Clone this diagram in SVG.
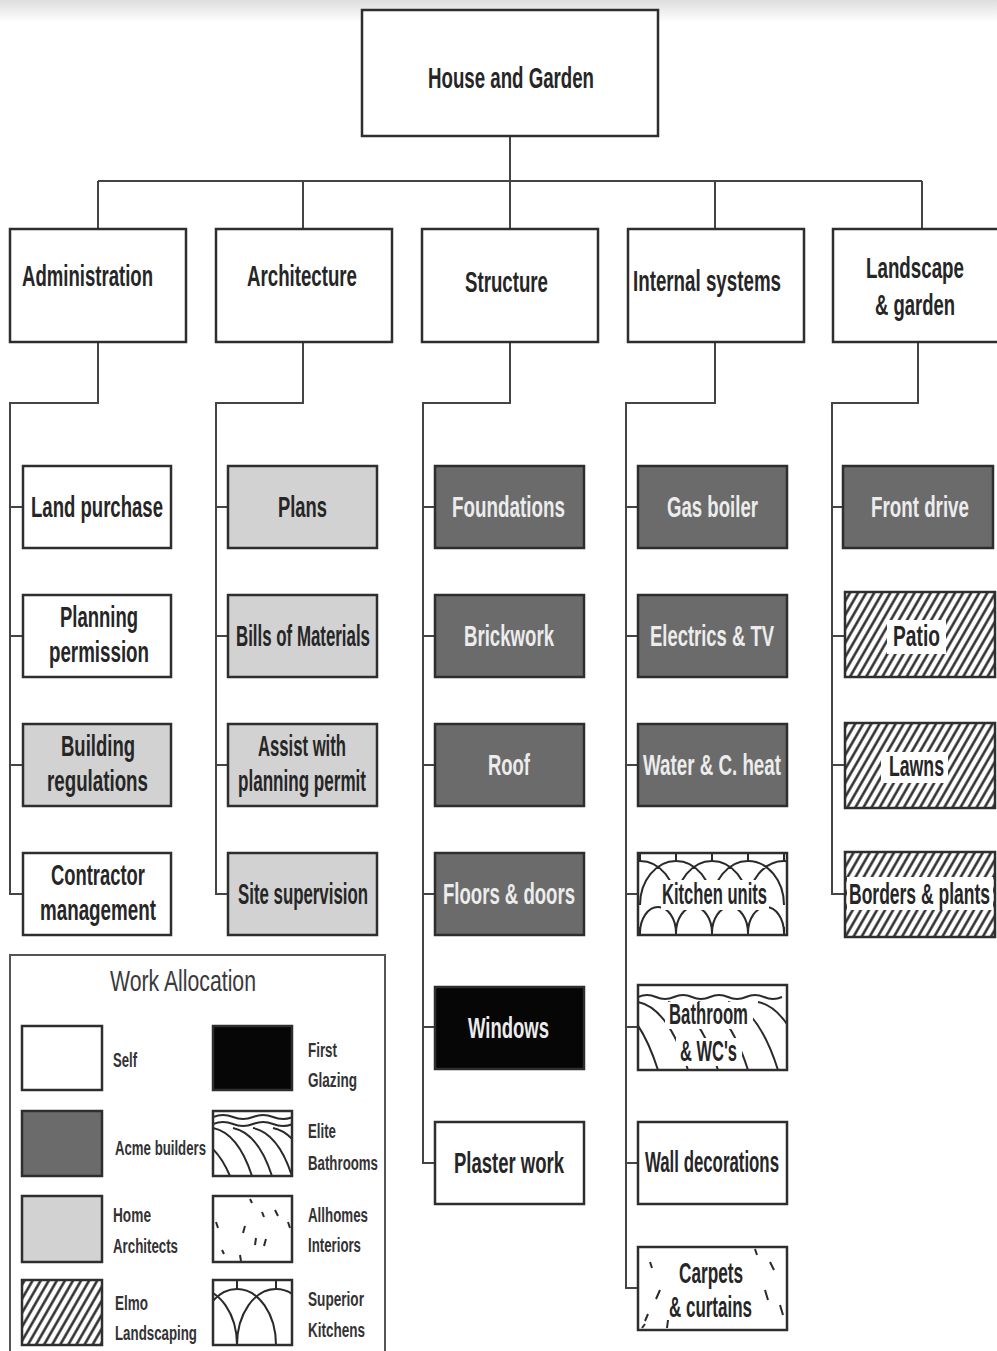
<svg xmlns="http://www.w3.org/2000/svg" width="997" height="1351" viewBox="0 0 997 1351">
  <style>
    .box { stroke: #2e2e2e; stroke-width: 2.5; }
    .white { fill: #ffffff; }
    .acme { fill: #6b6b6b; }
    .home { fill: #d2d2d2; }
    .glaze { fill: #060606; }
    .hatch { fill: url(#hatch); }
    .conn { fill: none; stroke: #444444; stroke-width: 2; }
    .pat { fill: none; stroke: #2a2a2a; stroke-width: 2; }
    .t { font-family: "Liberation Sans", Arial, sans-serif; font-weight: bold; font-size: 30px; fill: #262626; }
    .tl { fill: #ececec; }
    .lg { font-size: 21px; fill: #333333; }
    .title { font-family: "Liberation Sans", Arial, sans-serif; font-size: 30px; fill: #3a3a3a; }
  </style>
  <defs>
    <linearGradient id="haze" x1="0" y1="0" x2="0" y2="1">
      <stop offset="0" stop-color="#dedede"/>
      <stop offset="1" stop-color="#ffffff"/>
    </linearGradient>
    <!-- Landscaping: diagonal hatching -->
    <pattern id="hatch" patternUnits="userSpaceOnUse" width="7" height="10" patternTransform="rotate(30)">
      <rect width="7" height="10" fill="#ffffff"/>
      <line x1="3.5" y1="0" x2="3.5" y2="10" stroke="#222222" stroke-width="2.4"/>
    </pattern>
    <clipPath id="clipKitchen"><rect x="638" y="853" width="149" height="82"/></clipPath>
    <clipPath id="clipBath"><rect x="638" y="985" width="149" height="85"/></clipPath>
    <clipPath id="clipLgKitchen"><rect x="213" y="1280" width="79" height="65"/></clipPath>
    <clipPath id="clipLgBath"><rect x="213" y="1111" width="79" height="65"/></clipPath>
  </defs>

  <rect width="997" height="1351" fill="#ffffff"/>
  <rect width="997" height="22" fill="url(#haze)"/>

  <!-- connectors -->
  <g id="connectors" class="conn">
    <path d="M510,136 V181 M98,181 H922 M98,181 V229 M303,181 V229 M510,181 V229 M715,181 V229 M922,181 V229"/>
    <!-- Administration branch -->
    <path d="M98,342 V403 H10 V894 H23 M10,507 H23 M10,636 H23 M10,765 H23"/>
    <!-- Architecture branch -->
    <path d="M303,342 V403 H216 V894 H228 M216,507 H228 M216,636 H228 M216,765 H228"/>
    <!-- Structure branch -->
    <path d="M510,342 V403 H423 V1163 H435 M423,507 H435 M423,636 H435 M423,765 H435 M423,894 H435 M423,1027 H435"/>
    <!-- Internal systems branch -->
    <path d="M715,342 V403 H626 V1288 H638 M626,507 H638 M626,636 H638 M626,765 H638 M626,894 H638 M626,1027 H638 M626,1163 H638"/>
    <!-- Landscape branch -->
    <path d="M918,342 V403 H832 V894 H845 M832,507 H843 M832,636 H845 M832,765 H845"/>
  </g>

  <!-- root (labels sit in a 0.625 horizontal scale: x values are divided by 0.625) -->
  <g id="house-and-garden">
    <rect class="box white" x="362" y="10" width="296" height="126"/>
    <g transform="scale(0.625,1)"><text class="t" x="684.8" y="88" textLength="265.6" lengthAdjust="spacingAndGlyphs">House and Garden</text></g>
  </g>

  <!-- level 2 -->
  <g id="administration">
    <rect class="box white" x="10" y="229" width="176" height="113"/>
    <g transform="scale(0.625,1)"><text class="t" x="35.2" y="286" textLength="209.6" lengthAdjust="spacingAndGlyphs">Administration</text></g>
  </g>
  <g id="architecture">
    <rect class="box white" x="216" y="229" width="176" height="113"/>
    <g transform="scale(0.625,1)"><text class="t" x="395.2" y="286" textLength="176" lengthAdjust="spacingAndGlyphs">Architecture</text></g>
  </g>
  <g id="structure">
    <rect class="box white" x="422" y="229" width="176" height="113"/>
    <g transform="scale(0.625,1)"><text class="t" x="744" y="292" textLength="132.8" lengthAdjust="spacingAndGlyphs">Structure</text></g>
  </g>
  <g id="internal-systems">
    <rect class="box white" x="628" y="229" width="176" height="113"/>
    <g transform="scale(0.625,1)"><text class="t" x="1012.8" y="291" textLength="236.8" lengthAdjust="spacingAndGlyphs">Internal systems</text></g>
  </g>
  <g id="landscape-garden">
    <rect class="box white" x="833" y="229" width="180" height="113"/>
    <g transform="scale(0.625,1)">
      <text class="t" x="1385.6" y="278" textLength="156.8" lengthAdjust="spacingAndGlyphs">Landscape</text>
      <text class="t" x="1400" y="315" textLength="128" lengthAdjust="spacingAndGlyphs">&amp; garden</text>
    </g>
  </g>

  <!-- Administration tasks -->
  <g id="land-purchase">
    <rect class="box white" x="23" y="466" width="148" height="82"/>
    <g transform="scale(0.625,1)"><text class="t" x="49.6" y="517" textLength="211.2" lengthAdjust="spacingAndGlyphs">Land purchase</text></g>
  </g>
  <g id="planning-permission">
    <rect class="box white" x="23" y="595" width="148" height="82"/>
    <g transform="scale(0.625,1)">
      <text class="t" x="96" y="627" textLength="124.8" lengthAdjust="spacingAndGlyphs">Planning</text>
      <text class="t" x="78.4" y="662" textLength="160" lengthAdjust="spacingAndGlyphs">permission</text>
    </g>
  </g>
  <g id="building-regulations">
    <rect class="box home" x="23" y="724" width="148" height="82"/>
    <g transform="scale(0.625,1)">
      <text class="t" x="97.6" y="756" textLength="118.4" lengthAdjust="spacingAndGlyphs">Building</text>
      <text class="t" x="75.2" y="791" textLength="161.6" lengthAdjust="spacingAndGlyphs">regulations</text>
    </g>
  </g>
  <g id="contractor-management">
    <rect class="box white" x="23" y="853" width="148" height="82"/>
    <g transform="scale(0.625,1)">
      <text class="t" x="81.6" y="885" textLength="150.4" lengthAdjust="spacingAndGlyphs">Contractor</text>
      <text class="t" x="64" y="920" textLength="185.6" lengthAdjust="spacingAndGlyphs">management</text>
    </g>
  </g>

  <!-- Architecture tasks -->
  <g id="plans">
    <rect class="box home" x="228" y="466" width="149" height="82"/>
    <g transform="scale(0.625,1)"><text class="t" x="444.8" y="517" textLength="78.4" lengthAdjust="spacingAndGlyphs">Plans</text></g>
  </g>
  <g id="bills-of-materials">
    <rect class="box home" x="228" y="595" width="149" height="82"/>
    <g transform="scale(0.625,1)"><text class="t" x="377.6" y="646" textLength="214.4" lengthAdjust="spacingAndGlyphs">Bills of Materials</text></g>
  </g>
  <g id="assist-planning">
    <rect class="box home" x="228" y="724" width="149" height="82"/>
    <g transform="scale(0.625,1)">
      <text class="t" x="412.8" y="756" textLength="140.8" lengthAdjust="spacingAndGlyphs">Assist with</text>
      <text class="t" x="380.8" y="791" textLength="204.8" lengthAdjust="spacingAndGlyphs">planning permit</text>
    </g>
  </g>
  <g id="site-supervision">
    <rect class="box home" x="228" y="853" width="149" height="82"/>
    <g transform="scale(0.625,1)"><text class="t" x="380.8" y="904" textLength="208" lengthAdjust="spacingAndGlyphs">Site supervision</text></g>
  </g>

  <!-- Structure tasks -->
  <g id="foundations">
    <rect class="box acme" x="435" y="466" width="149" height="82"/>
    <g transform="scale(0.625,1)"><text class="t tl" x="723.2" y="517" textLength="180.8" lengthAdjust="spacingAndGlyphs">Foundations</text></g>
  </g>
  <g id="brickwork">
    <rect class="box acme" x="435" y="595" width="149" height="82"/>
    <g transform="scale(0.625,1)"><text class="t tl" x="742.4" y="646" textLength="144" lengthAdjust="spacingAndGlyphs">Brickwork</text></g>
  </g>
  <g id="roof">
    <rect class="box acme" x="435" y="724" width="149" height="82"/>
    <g transform="scale(0.625,1)"><text class="t tl" x="780.8" y="775" textLength="67.2" lengthAdjust="spacingAndGlyphs">Roof</text></g>
  </g>
  <g id="floors-doors">
    <rect class="box acme" x="435" y="853" width="149" height="82"/>
    <g transform="scale(0.625,1)"><text class="t tl" x="708.8" y="904" textLength="211.2" lengthAdjust="spacingAndGlyphs">Floors &amp; doors</text></g>
  </g>
  <g id="windows">
    <rect class="box glaze" x="435" y="987" width="149" height="82"/>
    <g transform="scale(0.625,1)"><text class="t tl" x="748.8" y="1038" textLength="129.6" lengthAdjust="spacingAndGlyphs">Windows</text></g>
  </g>
  <g id="plaster-work">
    <rect class="box white" x="435" y="1122" width="149" height="82"/>
    <g transform="scale(0.625,1)"><text class="t" x="726.4" y="1173" textLength="176" lengthAdjust="spacingAndGlyphs">Plaster work</text></g>
  </g>

  <!-- Internal systems tasks -->
  <g id="gas-boiler">
    <rect class="box acme" x="638" y="466" width="149" height="82"/>
    <g transform="scale(0.625,1)"><text class="t tl" x="1067.2" y="517" textLength="145.6" lengthAdjust="spacingAndGlyphs">Gas boiler</text></g>
  </g>
  <g id="electrics-tv">
    <rect class="box acme" x="638" y="595" width="149" height="82"/>
    <g transform="scale(0.625,1)"><text class="t tl" x="1040" y="646" textLength="198.4" lengthAdjust="spacingAndGlyphs">Electrics &amp; TV</text></g>
  </g>
  <g id="water-heat">
    <rect class="box acme" x="638" y="724" width="149" height="82"/>
    <g transform="scale(0.625,1)"><text class="t tl" x="1028.8" y="775" textLength="220.8" lengthAdjust="spacingAndGlyphs">Water &amp; C. heat</text></g>
  </g>
  <g id="kitchen-units">
    <rect class="white" x="638" y="853" width="149" height="82"/>
    <g clip-path="url(#clipKitchen)" class="pat">
      <path d="M640,853 V861 M676,853 V861 M712,853 V861 M748,853 V861 M784,853 V861"/>
      <path d="M604,905 A36,44 0 0 1 676,905 M640,905 A36,44 0 0 1 712,905 M676,905 A36,44 0 0 1 748,905 M712,905 A36,44 0 0 1 784,905 M748,905 A36,44 0 0 1 820,905"/>
      <path d="M640,933 A18,26 0 0 1 676,933 M676,933 A18,26 0 0 1 712,933 M712,933 A18,26 0 0 1 748,933 M748,933 A18,26 0 0 1 784,933"/>
      <path d="M640,935 V927 M676,935 V927 M712,935 V927 M748,935 V927 M784,935 V927"/>
    </g>
    <rect x="661" y="880" width="108" height="30" fill="#ffffff"/>
    <rect class="box" x="638" y="853" width="149" height="82" fill="none"/>
    <g transform="scale(0.625,1)"><text class="t" x="1059.2" y="904" textLength="168" lengthAdjust="spacingAndGlyphs">Kitchen units</text></g>
  </g>
  <g id="bathroom-wcs">
    <rect class="white" x="638" y="985" width="149" height="85"/>
    <g clip-path="url(#clipBath)" class="pat">
      <path d="M638,997 q9,-4 18,0 t18,0 t18,0 t18,0 t18,0 t18,0 t18,0 t18,0"/>
      <path d="M578,1002 Q608,1008 628,1070 M608,1002 Q638,1008 658,1070 M638,1002 Q668,1008 688,1070 M668,1002 Q698,1008 718,1070 M698,1002 Q728,1008 748,1070 M728,1002 Q758,1008 778,1070 M758,1002 Q788,1008 808,1070"/>
    </g>
    <rect x="665" y="1002" width="88" height="27" fill="#ffffff"/>
    <rect x="676" y="1038" width="66" height="28" fill="#ffffff"/>
    <rect class="box" x="638" y="985" width="149" height="85" fill="none"/>
    <g transform="scale(0.625,1)">
      <text class="t" x="1070.4" y="1024" textLength="126.4" lengthAdjust="spacingAndGlyphs">Bathroom</text>
      <text class="t" x="1088" y="1061" textLength="91.2" lengthAdjust="spacingAndGlyphs">&amp; WC's</text>
    </g>
  </g>
  <g id="wall-decorations">
    <rect class="box white" x="638" y="1122" width="149" height="82"/>
    <g transform="scale(0.625,1)"><text class="t" x="1032" y="1172" textLength="214.4" lengthAdjust="spacingAndGlyphs">Wall decorations</text></g>
  </g>
  <g id="carpets-curtains">
    <rect class="box white" x="638" y="1247" width="149" height="83"/>
    <path class="pat" d="M650,1262 l2,6 M660,1290 l-4,9 M648,1314 l-3,7 M668,1320 l-1,8 M770,1262 l4,8 M765,1290 l3,10 M780,1305 l3,10 M755,1249 l2,6 M642,1328 l3,-4"/>
    <g transform="scale(0.625,1)">
      <text class="t" x="1086.4" y="1283" textLength="102.4" lengthAdjust="spacingAndGlyphs">Carpets</text>
      <text class="t" x="1070.4" y="1317" textLength="132.8" lengthAdjust="spacingAndGlyphs">&amp; curtains</text>
    </g>
  </g>

  <!-- Landscape tasks -->
  <g id="front-drive">
    <rect class="box acme" x="843" y="466" width="150" height="82"/>
    <g transform="scale(0.625,1)"><text class="t tl" x="1393.6" y="517" textLength="156.8" lengthAdjust="spacingAndGlyphs">Front drive</text></g>
  </g>
  <g id="patio">
    <rect class="box hatch" x="845" y="592" width="150" height="85"/>
    <rect x="887" y="620" width="59" height="34" fill="#ffffff"/>
    <g transform="scale(0.625,1)"><text class="t" x="1428.8" y="646" textLength="75.2" lengthAdjust="spacingAndGlyphs">Patio</text></g>
  </g>
  <g id="lawns">
    <rect class="box hatch" x="845" y="723" width="150" height="85"/>
    <rect x="881" y="752" width="67" height="31" fill="#ffffff"/>
    <g transform="scale(0.625,1)"><text class="t" x="1422.4" y="776" textLength="88" lengthAdjust="spacingAndGlyphs">Lawns</text></g>
  </g>
  <g id="borders-plants">
    <rect class="box hatch" x="845" y="852" width="150" height="85"/>
    <rect x="847" y="877" width="146" height="33" fill="#ffffff"/>
    <g transform="scale(0.58,1)"><text class="t" x="1463.8" y="904" textLength="243.1" lengthAdjust="spacingAndGlyphs">Borders &amp; plants</text></g>
  </g>

  <!-- key of contractors -->
  <g id="work-allocation">
    <rect x="10" y="955" width="375" height="410" fill="none" stroke="#555555" stroke-width="2"/>

    <rect class="box white" x="22" y="1026" width="80" height="64"/>
    <rect class="box acme" x="22" y="1111" width="80" height="65"/>
    <rect class="box home" x="22" y="1196" width="80" height="66"/>
    <rect class="box hatch" x="22" y="1280" width="80" height="65"/>
    <rect class="box glaze" x="213" y="1026" width="79" height="64"/>

    <rect class="white" x="213" y="1111" width="79" height="65"/>
    <g clip-path="url(#clipLgBath)" class="pat">
      <path d="M213,1117 q10,-4 20,0 t20,0 t20,0 t20,0 M213,1124 q10,-4 20,0 t20,0 t20,0 t20,0"/>
      <path d="M213,1128 Q238,1133 252,1176 M233,1128 Q258,1133 272,1176 M253,1128 Q278,1133 292,1176 M273,1128 Q298,1133 312,1176 M200,1140 Q218,1148 230,1176"/>
    </g>
    <rect class="box" x="213" y="1111" width="79" height="65" fill="none"/>

    <rect class="box white" x="213" y="1196" width="79" height="66"/>
    <path class="pat" d="M250,1199 l2,4 M262,1212 l2,5 M275,1210 l3,6 M245,1226 l-2,7 M256,1238 l-1,7 M266,1239 l-2,7 M216,1222 l2,6 M288,1222 l2,6 M240,1255 l1,6 M222,1250 l2,4"/>

    <rect class="white" x="213" y="1280" width="79" height="65"/>
    <g clip-path="url(#clipLgKitchen)" class="pat">
      <path d="M237,1280 V1289 M276,1280 V1289"/>
      <path d="M198,1345 A39,56 0 0 1 276,1345 M237,1345 A39,56 0 0 1 315,1345 M159,1345 A39,56 0 0 1 237,1345"/>
    </g>
    <rect class="box" x="213" y="1280" width="79" height="65" fill="none"/>

    <g transform="scale(0.625,1)">
      <text class="title" x="176" y="991" textLength="233.6" lengthAdjust="spacingAndGlyphs">Work Allocation</text>
      <text class="t lg" x="180.8" y="1067" textLength="38.4" lengthAdjust="spacingAndGlyphs">Self</text>
      <text class="t lg" x="184" y="1155" textLength="145.6" lengthAdjust="spacingAndGlyphs">Acme builders</text>
      <text class="t lg" x="180.8" y="1222" textLength="60.8" lengthAdjust="spacingAndGlyphs">Home</text>
      <text class="t lg" x="180.8" y="1253" textLength="104" lengthAdjust="spacingAndGlyphs">Architects</text>
      <text class="t lg" x="184" y="1310" textLength="52.8" lengthAdjust="spacingAndGlyphs">Elmo</text>
      <text class="t lg" x="184" y="1340" textLength="131.2" lengthAdjust="spacingAndGlyphs">Landscaping</text>
      <text class="t lg" x="492.8" y="1057" textLength="46.4" lengthAdjust="spacingAndGlyphs">First</text>
      <text class="t lg" x="492.8" y="1087" textLength="78.4" lengthAdjust="spacingAndGlyphs">Glazing</text>
      <text class="t lg" x="492.8" y="1138" textLength="44.8" lengthAdjust="spacingAndGlyphs">Elite</text>
      <text class="t lg" x="492.8" y="1170" textLength="112" lengthAdjust="spacingAndGlyphs">Bathrooms</text>
      <text class="t lg" x="492.8" y="1222" textLength="96" lengthAdjust="spacingAndGlyphs">Allhomes</text>
      <text class="t lg" x="492.8" y="1252" textLength="84.8" lengthAdjust="spacingAndGlyphs">Interiors</text>
      <text class="t lg" x="492.8" y="1306" textLength="89.6" lengthAdjust="spacingAndGlyphs">Superior</text>
      <text class="t lg" x="492.8" y="1337" textLength="91.2" lengthAdjust="spacingAndGlyphs">Kitchens</text>
    </g>
  </g>
</svg>
